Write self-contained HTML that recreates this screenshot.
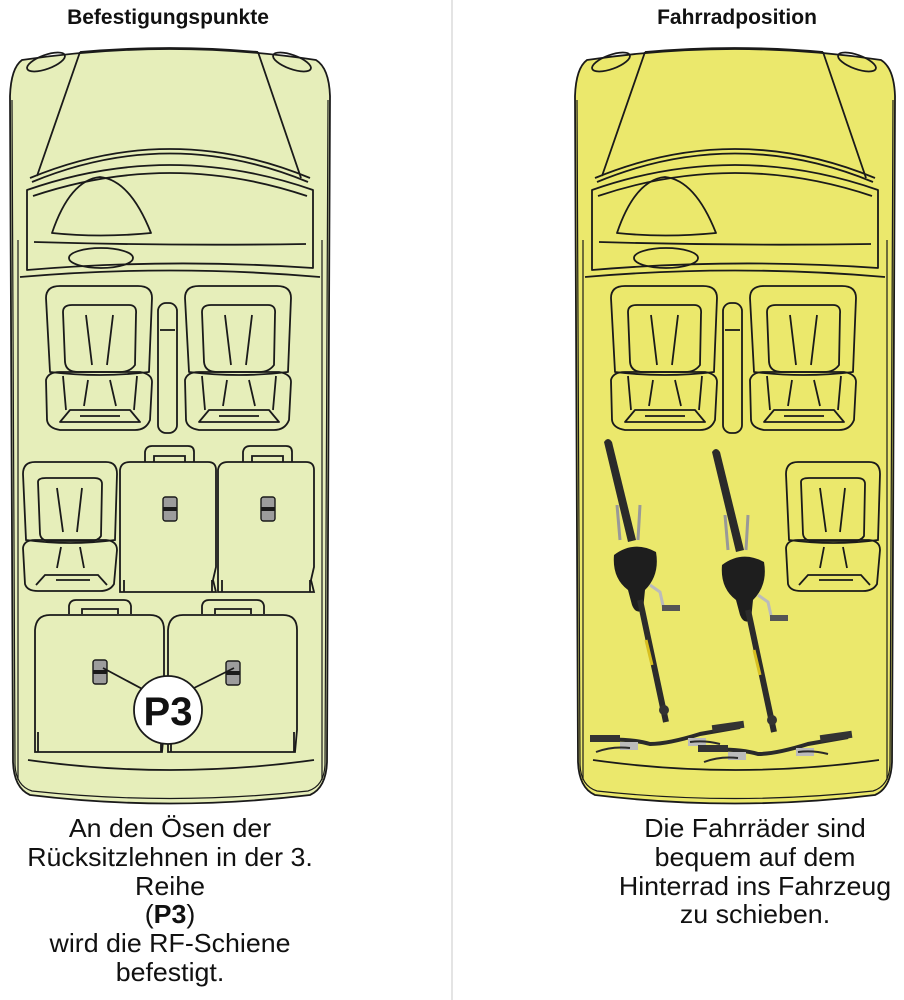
<!DOCTYPE html>
<html><head><meta charset="utf-8"><style>
html,body{margin:0;padding:0;background:#fff;width:904px;height:1000px;overflow:hidden}
svg{display:block}
text{font-family:"Liberation Sans",Arial,sans-serif;fill:#111}
</style></head><body>
<svg width="904" height="1000" viewBox="0 0 904 1000" xmlns="http://www.w3.org/2000/svg">
<defs>
<g id="body" fill="none" stroke="#1a1a1a" stroke-width="1.8" stroke-linejoin="round">
  <path class="shell" d="M22,60 Q170,38 316,60 Q329,68 330,96 L327,762 Q326,788 310,795 Q170,812 30,795 Q14,788 13,762 L10,96 Q11,68 22,60 Z"/>
  <path d="M12,100 L15,765 Q16,786 32,791 Q170,806 308,791 Q324,786 325,765 L328,100" stroke-width="1.2"/>
  <ellipse cx="46" cy="62" rx="20" ry="7" transform="rotate(-20 46 62)"/>
  <ellipse cx="292" cy="62" rx="20" ry="7" transform="rotate(20 292 62)"/>
  <path d="M80,52 Q170,44 258,52"/>
  <path d="M80,52 L37,176 M258,52 L301,178"/>
  <path d="M30,178 Q170,120 310,178"/>
  <path d="M27,190 Q170,140 313,190 L313,268 Q170,258 27,270 Z"/>
  <path d="M33,196 Q170,150 307,196"/>
  <path d="M32,182 Q170,125 308,182"/>
  <path d="M52,233 Q70,180 100,177 Q130,180 151,233 Q100,238 52,233 Z"/>
  <path d="M34,242 Q170,246 306,244"/>
  <ellipse cx="101" cy="258" rx="32" ry="10"/>
  <path d="M20,277 Q170,264 320,277"/>
  <path d="M18,240 L18,780 M322,240 L322,780" stroke-width="1.2"/>
  <g id="seat">
    <path d="M46,298 Q46,286 60,286 L138,286 Q152,286 152,298 L149,372 Q100,378 50,372 Z"/>
    <path d="M63,312 Q63,305 72,305 L129,305 Q137,305 136,314 L135,365 Q130,372 120,372 L78,372 Q66,372 65,362 Z"/>
    <path d="M86,315 L92,365 M113,315 L107,365"/>
    <path d="M46,380 Q48,372 60,372 L140,372 Q152,374 152,382 L150,420 Q146,430 135,430 L60,430 Q48,428 47,420 Z"/>
    <path d="M63,376 L66,410 M137,376 L134,410"/>
    <path d="M60,422 L70,410 L130,410 L140,422 Z M80,416 L120,416"/>
    <path d="M88,380 L84,406 M110,380 L116,406"/>
  </g>
  <use href="#seat" transform="translate(139 0)"/>
  <rect x="158" y="303" width="19" height="130" rx="8"/>
  <path d="M160,330 L175,330"/>
</g>
<g id="bench" fill="none" stroke="#1a1a1a" stroke-width="1.8">
  <path d="M145,462 L145,452 Q146,446 152,446 L188,446 Q194,446 194,452 L194,462"/>
  <path d="M154,462 L154,456 L185,456 L185,462"/>
  <path d="M120,592 L120,470 Q121,462 130,462 L208,462 Q216,462 216,470 L216,567 L213,580 L216,592 Z"/>
  <path d="M124,580 L124,592 M212,580 L212,592"/>
  <rect x="163" y="497" width="14" height="24" rx="2.5" fill="#9c9c9c" stroke-width="1.4"/>
  <rect x="163" y="507" width="14" height="4" fill="#1a1a1a" stroke="none"/>
</g>
</defs>

<line x1="452" y1="0" x2="452" y2="1000" stroke="#c8c8c8" stroke-width="1"/>
<text x="168" y="24" font-size="21" font-weight="bold" text-anchor="middle">Befestigungspunkte</text>
<text x="737" y="24" font-size="21" font-weight="bold" text-anchor="middle">Fahrradposition</text>

<path d="M22,60 Q170,38 316,60 Q329,68 330,96 L327,762 Q326,788 310,795 Q170,812 30,795 Q14,788 13,762 L10,96 Q11,68 22,60 Z" fill="#e6eeba"/>
<use href="#body"/>
<g fill="none" stroke="#1a1a1a" stroke-width="1.8">
  <path d="M23,474 Q23,462 35,462 L106,462 Q117,462 117,474 L115,540 Q70,546 26,540 Z"/>
  <path d="M38,482 Q38,478 46,478 L94,478 Q102,478 102,484 L101,536 Q98,541 90,541 L50,541 Q41,541 40,534 Z"/>
  <path d="M57,488 L63,532 M82,488 L77,532"/>
  <path d="M23,548 Q24,540 35,540 L106,540 Q117,541 117,550 L114,584 Q110,591 100,591 L38,591 Q27,591 25,584 Z"/>
  <path d="M36,585 L45,575 L98,575 L107,585 M56,580 L90,580"/>
  <path d="M61,547 L57,568 M80,547 L84,568"/>
</g>
<use href="#bench"/>
<use href="#bench" transform="translate(98 0)"/>
<g fill="none" stroke="#1a1a1a" stroke-width="1.8">
  <g id="back3">
    <path d="M69,614 L69,606 Q70,600 76,600 L124,600 Q130,600 131,606 L131,614"/>
    <path d="M82,614 L82,609 L118,609 L118,614"/>
    <path d="M35,752 L35,630 Q36,615 50,615 L150,615 Q164,615 164,630 L164,730 L162,752 Z"/>
    <path d="M38,732 L38,752 M161,732 L161,752"/>
  </g>
  <use href="#back3" transform="translate(133 0)"/>
  <path d="M28,760 Q170,780 314,760"/>
</g>
<rect x="93" y="660" width="14" height="24" rx="2.5" fill="#9c9c9c" stroke="#1a1a1a" stroke-width="1.4"/>
<rect x="93" y="670" width="14" height="4" fill="#1a1a1a"/>
<rect x="226" y="661" width="14" height="24" rx="2.5" fill="#9c9c9c" stroke="#1a1a1a" stroke-width="1.4"/>
<rect x="226" y="671" width="14" height="4" fill="#1a1a1a"/>
<path d="M103,668 L148,692 M234,668 L190,690" stroke="#1a1a1a" stroke-width="1.8"/>
<circle cx="168" cy="710" r="34" fill="#fff" stroke="#1a1a1a" stroke-width="1.8"/>
<text x="168" y="725" font-size="40" font-weight="bold" text-anchor="middle">P3</text>

<g transform="translate(565 0)">
  <path d="M22,60 Q170,38 316,60 Q329,68 330,96 L327,762 Q326,788 310,795 Q170,812 30,795 Q14,788 13,762 L10,96 Q11,68 22,60 Z" fill="#ebe86c"/>
  <use href="#body"/>
  <g fill="none" stroke="#1a1a1a" stroke-width="1.8">
    <path d="M28,760 Q170,780 314,760"/>
    <g transform="translate(198 0)">
      <path d="M23,474 Q23,462 35,462 L106,462 Q117,462 117,474 L115,540 Q70,546 26,540 Z"/>
      <path d="M38,482 Q38,478 46,478 L94,478 Q102,478 102,484 L101,536 Q98,541 90,541 L50,541 Q41,541 40,534 Z"/>
      <path d="M57,488 L63,532 M82,488 L77,532"/>
      <path d="M23,548 Q24,540 35,540 L106,540 Q117,541 117,550 L114,584 Q110,591 100,591 L38,591 Q27,591 25,584 Z"/>
      <path d="M36,585 L45,575 L98,575 L107,585 M56,580 L90,580"/>
      <path d="M61,547 L57,568 M80,547 L84,568"/>
    </g>
  </g>
</g>
<g id="bike">
  <path d="M604,442 Q608,436 612,442 L636,540 L628,542 Z" fill="#2a2a2a"/>
  <path d="M617,505 L620,540 M640,505 L638,540" stroke="#999" stroke-width="3"/>
  <path d="M614,555 Q634,540 656,552 Q660,575 645,590 L643,610 Q636,615 632,605 L628,590 Q612,578 614,555 Z" fill="#1e1e1e"/>
  <path d="M640,600 L666,722" stroke="#2b2b2b" stroke-width="6"/>
  <path d="M646,640 L652,665" stroke="#d8c020" stroke-width="3"/>
  <path d="M650,585 L660,592 L664,610" stroke="#bbb" stroke-width="3" fill="none"/>
  <rect x="662" y="605" width="18" height="6" fill="#555"/>
  <path d="M592,740 Q630,738 650,744 Q668,744 700,734 L740,727" stroke="#2a2a2a" stroke-width="4" fill="none"/>
  <rect x="590" y="735" width="30" height="7" fill="#333"/>
  <rect x="712" y="723" width="32" height="7" fill="#333" transform="rotate(-8 728 726)"/>
  <rect x="620" y="742" width="18" height="8" fill="#bbb"/>
  <rect x="688" y="738" width="18" height="8" fill="#bbb"/>
  <circle cx="664" cy="710" r="5" fill="#333"/>
  <path d="M596,752 Q612,746 630,748 M690,742 Q705,740 720,744" stroke="#2a2a2a" stroke-width="2" fill="none"/>
</g>
<use href="#bike" transform="translate(108 10)"/>

<g font-size="26" text-anchor="middle">
  <g transform="translate(170 0) scale(1.03 1)">
    <text x="0" y="837">An den Ösen der</text>
    <text x="0" y="866">Rücksitzlehnen in der 3.</text>
    <text x="0" y="895">Reihe</text>
    <text x="0" y="923">(<tspan font-weight="bold">P3</tspan>)</text>
    <text x="0" y="952">wird die RF-Schiene</text>
    <text x="0" y="981">befestigt.</text>
  </g>
  <g transform="translate(755 0) scale(1.03 1)">
    <text x="0" y="837">Die Fahrräder sind</text>
    <text x="0" y="866">bequem auf dem</text>
    <text x="0" y="895">Hinterrad ins Fahrzeug</text>
    <text x="0" y="923">zu schieben.</text>
  </g>
</g>
</svg>
</body></html>
